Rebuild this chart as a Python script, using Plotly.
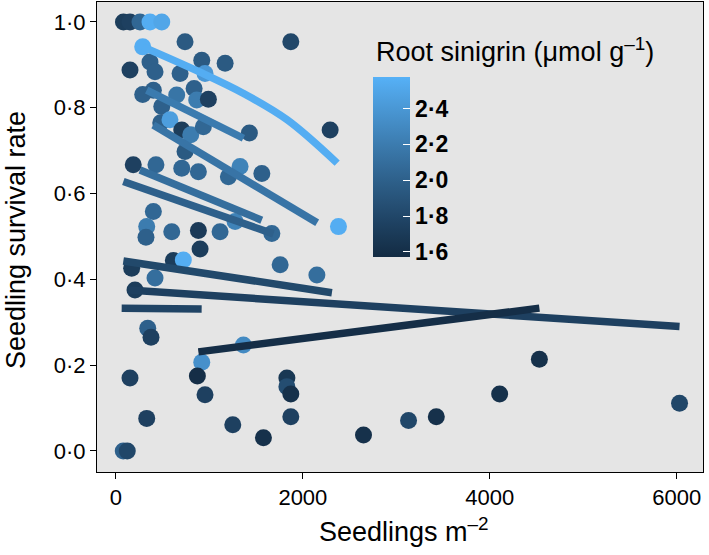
import plotly.graph_objects as go

# ---------------- data ----------------
seed_x = [80, 150, 257, 364, 490, 286, 739, 1871, 150, 364, 418, 686, 918, 1168, 953,
          286, 400, 650, 836, 864, 989, 490, 479, 578, 704, 800, 935, 1428, 2292,
          185, 428, 704, 739, 882, 1328, 1561, 1203, 400, 329, 321, 597, 882, 1114,
          1275, 1668, 2381, 900, 614, 721, 168, 418, 1757, 2150, 204, 340, 375, 1364,
          918, 150, 871, 1829, 1829, 1871, 953, 1871, 329, 1250, 1578, 78, 121, 2649,
          3131, 3428, 4106, 4531, 6031]
survival = [1.0, 1.0, 1.0, 1.0, 1.0, 0.942, 0.954, 0.954, 0.888, 0.907, 0.884, 0.880,
            0.911, 0.904, 0.880, 0.831, 0.841, 0.830, 0.845, 0.818, 0.820, 0.803, 0.765,
            0.772, 0.748, 0.737, 0.756, 0.741, 0.748, 0.667, 0.667, 0.659, 0.698, 0.651,
            0.663, 0.647, 0.639, 0.558, 0.523, 0.498, 0.511, 0.514, 0.511, 0.535, 0.507,
            0.523, 0.471, 0.444, 0.445, 0.426, 0.403, 0.434, 0.410, 0.375, 0.286, 0.265,
            0.247, 0.207, 0.170, 0.175, 0.170, 0.150, 0.133, 0.131, 0.080, 0.076, 0.061,
            0.031, 0.0, 0.0, 0.037, 0.071, 0.080, 0.133, 0.214, 0.111]
sinigrin = [1.72, 1.75, 2.05, 2.55, 2.5, 2.55, 1.95, 1.8, 1.75, 2.0, 2.0, 2.0, 1.95, 1.95,
            2.4, 2.0, 2.0, 2.15, 2.0, 2.2, 1.75, 2.0, 2.0, 2.45, 1.72, 2.2, 2.05, 1.95, 1.75,
            1.75, 2.05, 2.05, 1.95, 2.05, 2.25, 2.0, 2.05, 2.05, 2.2, 2.0, 2.05, 1.7, 2.05,
            2.25, 2.05, 2.55, 1.72, 1.72, 2.55, 1.72, 2.1, 2.05, 2.1, 1.72, 2.0, 1.75, 2.3,
            2.35, 1.75, 1.6, 1.68, 1.85, 1.62, 1.75, 1.75, 1.75, 1.75, 1.62, 2.0, 1.8, 1.62,
            1.8, 1.62, 1.62, 1.62, 1.8]

# fitted lines per population (x, y) and their sinigrin level
fit_x = [[289, 900, 1360, 1832, 2367], [329, 1364], [399, 2153], [257, 1560],
         [79, 1685], [79, 2311], [132, 6031], [61, 917], [882, 4531]]
fit_y = [[0.942, 0.883, 0.834, 0.772, 0.671], [0.841, 0.729], [0.760, 0.532],
         [0.655, 0.538], [0.628, 0.506], [0.443, 0.369], [0.375, 0.290],
         [0.333, 0.331], [0.231, 0.333]]
fit_s = [2.55, 2.2, 2.15, 2.1, 2.0, 1.82, 1.75, 1.78, 1.6]

x_ticks = [0, 2000, 4000, 6000]
x_tick_text = ["0", "2000", "4000", "6000"]
y_ticks = [0.0, 0.2, 0.4, 0.6, 0.8, 1.0]
y_tick_text = ["0·0", "0·2", "0·4", "0·6", "0·8", "1·0"]
cb_ticks = [1.6, 1.8, 2.0, 2.2, 2.4]
cb_tick_text = ["1·6", "1·8", "2·0", "2·2", "2·4"]

CMIN, CMAX = 1.572, 2.576
LOW, HIGH = "#132B43", "#56B1F7"

# ---------------- colour helpers (Lab interpolation like ggplot) ----------------
def hex2rgb(h):
    h = h.lstrip("#")
    return [int(h[i:i + 2], 16) for i in (0, 2, 4)]

def rgb2lab(rgb):
    def lin(c):
        c = c / 255
        return c / 12.92 if c <= 0.04045 else ((c + 0.055) / 1.055) ** 2.4
    r, g, b = [lin(c) for c in rgb]
    X = (0.4124 * r + 0.3576 * g + 0.1805 * b) / 0.95047
    Y = (0.2126 * r + 0.7152 * g + 0.0722 * b)
    Z = (0.0193 * r + 0.1192 * g + 0.9505 * b) / 1.08883
    def f(t):
        return t ** (1 / 3) if t > 0.008856 else 7.787 * t + 16 / 116
    fx, fy, fz = f(X), f(Y), f(Z)
    return [116 * fy - 16, 500 * (fx - fy), 200 * (fy - fz)]

def lab2rgb(lab):
    L_, a, b = lab
    fy = (L_ + 16) / 116
    fx = fy + a / 500
    fz = fy - b / 200
    def finv(t):
        return t ** 3 if t ** 3 > 0.008856 else (t - 16 / 116) / 7.787
    X, Y, Z = finv(fx) * 0.95047, finv(fy), finv(fz) * 1.08883
    r = 3.2406 * X - 1.5372 * Y - 0.4986 * Z
    g = -0.9689 * X + 1.8758 * Y + 0.0415 * Z
    bb = 0.0557 * X - 0.2040 * Y + 1.0570 * Z
    def gam(c):
        c = 12.92 * c if c <= 0.0031308 else 1.055 * c ** (1 / 2.4) - 0.055
        return max(0, min(255, round(c * 255)))
    return "rgb({},{},{})".format(gam(r), gam(g), gam(bb))

LAB_LO, LAB_HI = rgb2lab(hex2rgb(LOW)), rgb2lab(hex2rgb(HIGH))

def grad(t):
    t = max(0.0, min(1.0, t))
    return lab2rgb([lo + (hi - lo) * t for lo, hi in zip(LAB_LO, LAB_HI)])

def colour_of(v):
    return grad((v - CMIN) / (CMAX - CMIN))

colorscale = [[i / 10, grad(i / 10)] for i in range(11)]

FONT = "Liberation Sans, Arial, Helvetica, sans-serif"

# plot panel in pixels: x 97..703, y 2..472
L, R, T, B = 97, 6, 2, 83
PW, PH = 709 - L - R, 555 - T - B

def px(xp):
    return (xp - L) / PW

def py(yp):
    return (555 - B - yp) / PH

# ---------------- figure ----------------
fig = go.Figure()

fig.add_trace(go.Scatter(
    x=seed_x, y=survival, mode="markers", showlegend=False,
    marker=dict(size=17, color=sinigrin, colorscale=colorscale, cmin=CMIN, cmax=CMAX,
                line=dict(width=0), opacity=1,
                colorbar=dict(
                    x=px(373), xanchor="left", xpad=0, xref="paper",
                    y=py(77), yanchor="top", ypad=0, yref="paper",
                    len=180, lenmode="pixels", thickness=37,
                    outlinewidth=0, tickmode="array", tickvals=cb_ticks,
                    ticktext=cb_tick_text, ticks="inside", ticklen=7,
                    tickcolor="white", tickwidth=1,
                    tickfont=dict(family=FONT, size=23, color="black", weight="bold"),
                    bgcolor="rgba(0,0,0,0)")),
    hoverinfo="skip"))

for xs, ys, s in zip(fit_x, fit_y, fit_s):
    fig.add_trace(go.Scatter(
        x=xs, y=ys, mode="lines", showlegend=False,
        line=dict(color=colour_of(s), width=7.5, shape="spline" if len(xs) > 2 else "linear"),
        hoverinfo="skip"))

fig.add_annotation(
    text="Root sinigrin (μmol g<sup>–1</sup>)", xref="paper", yref="paper",
    x=px(374), y=py(50), xanchor="left", yanchor="middle", showarrow=False,
    font=dict(family=FONT, size=27, color="black"))

fig.add_annotation(
    text="Seedling survival rate", xref="paper", yref="paper",
    x=px(16), y=py(240), xanchor="center", yanchor="middle", textangle=-90,
    showarrow=False, font=dict(family=FONT, size=27, color="black"))

fig.add_annotation(
    text="Seedlings m<sup>–2</sup>", xref="paper", yref="paper",
    x=px(404), y=py(530), xanchor="center", yanchor="middle",
    showarrow=False, font=dict(family=FONT, size=27, color="black"))

fig.update_layout(
    width=709, height=555,
    margin=dict(l=L, r=R, t=T, b=B),
    paper_bgcolor="white", plot_bgcolor="#e5e5e5",
    font=dict(family=FONT, color="black"),
    hovermode=False,
    xaxis=dict(range=[-203, 6282], tickmode="array", tickvals=x_ticks, ticktext=x_tick_text,
               showgrid=False, zeroline=False, ticks="outside", ticklen=6, tickcolor="black",
               showline=True, linecolor="black", linewidth=1, mirror=True, automargin=False,
               tickfont=dict(size=22, family=FONT, color="black")),
    yaxis=dict(range=[-0.049, 1.0466], tickmode="array", tickvals=y_ticks, ticktext=y_tick_text,
               showgrid=False, zeroline=False, ticks="outside", ticklen=6, tickcolor="black",
               showline=True, linecolor="black", linewidth=1, mirror=True, automargin=False,
               tickfont=dict(size=22, family=FONT, color="black")),
)

fig.write_html("out.html", config={"displayModeBar": False},
               post_script="document.body.style.margin='0';document.body.style.padding='0';")
